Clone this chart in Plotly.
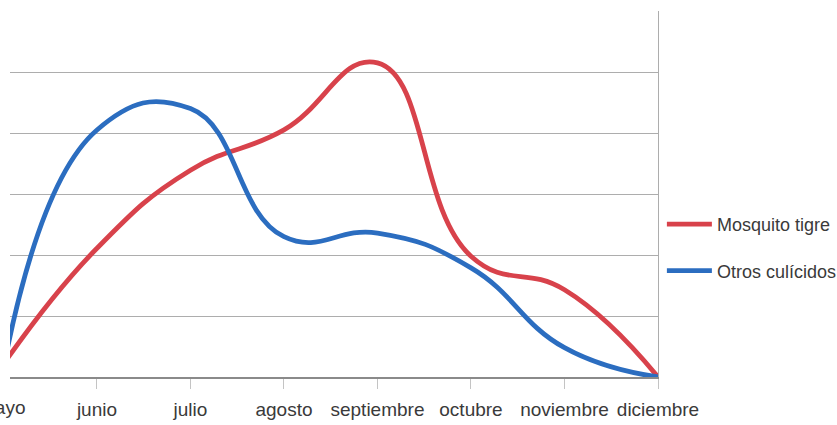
import plotly.graph_objects as go

# Monthly catches: tiger mosquito vs. other culicids
meses = ["mayo", "junio", "julio", "agosto", "septiembre", "octubre", "noviembre", "diciembre"]
mosquito_tigre = [2.1, 21.1, 33.9, 40.5, 51.5, 19.8, 14.3, 0.0]
otros_culicidos = [1.5, 40.5, 44.0, 23.0, 23.6, 17.9, 4.8, 0.0]

ROJO = "#d8424b"
AZUL = "#2b6dc0"
FUENTE = "Liberation Sans, Arial, sans-serif"
TXT = "#3a3a3a"

x_idx = list(range(len(meses)))
x_range = [0.07, len(meses) - 1]

fig = go.Figure()
fig.add_trace(go.Scatter(
    x=x_idx, y=mosquito_tigre, name="Mosquito tigre", mode="lines",
    line=dict(color=ROJO, width=4.8, shape="spline", smoothing=1.3),
    legendgroup="a",
))
fig.add_trace(go.Scatter(
    x=x_idx, y=otros_culicidos, name="Otros culícidos", mode="lines",
    line=dict(color=AZUL, width=4.8, shape="spline", smoothing=1.3),
    legendgroup="b",
))

fig.update_layout(
    width=837, height=425,
    margin=dict(l=10, r=179, t=11, b=48, autoexpand=False),
    paper_bgcolor="white", plot_bgcolor="white",
    font=dict(family=FUENTE, size=19, color=TXT),
    showlegend=True,
    legend=dict(
        x=1.006, xanchor="left", y=0.354, yanchor="middle",
        font=dict(family=FUENTE, size=18, color=TXT),
        itemwidth=45, tracegroupgap=20, bgcolor="rgba(0,0,0,0)",
    ),
    xaxis=dict(
        range=x_range, tickmode="array", tickvals=x_idx, ticktext=meses,
        tickangle=0,
        showgrid=False, zeroline=False,
        showline=True, linecolor="#8a8a8a", linewidth=1.5,
        ticks="outside", ticklen=10, tickcolor="#c4c4c4", tickwidth=1,
        ticklabelstandoff=4,
        tickfont=dict(family=FUENTE, size=19, color=TXT),
    ),
    yaxis=dict(
        range=[0, 60], dtick=10, showticklabels=False,
        showgrid=True, gridcolor="#adadad", gridwidth=1.2,
        zeroline=False, side="right",
        showline=True, linecolor="#adadad", linewidth=1.2,
    ),
)

# First month label sits left of the visible axis range, so place it by hand
# (anchored by its right edge, a few pixels right of the month's position)
frac = (x_idx[0] - x_range[0]) / (x_range[1] - x_range[0])
fig.add_annotation(
    x=frac, xref="paper", xanchor="right", xshift=24,
    y=0, yref="paper", yanchor="top", yshift=-18,
    text=meses[0], showarrow=False,
    font=dict(family=FUENTE, size=19, color=TXT),
)

fig.write_html("out.html")
